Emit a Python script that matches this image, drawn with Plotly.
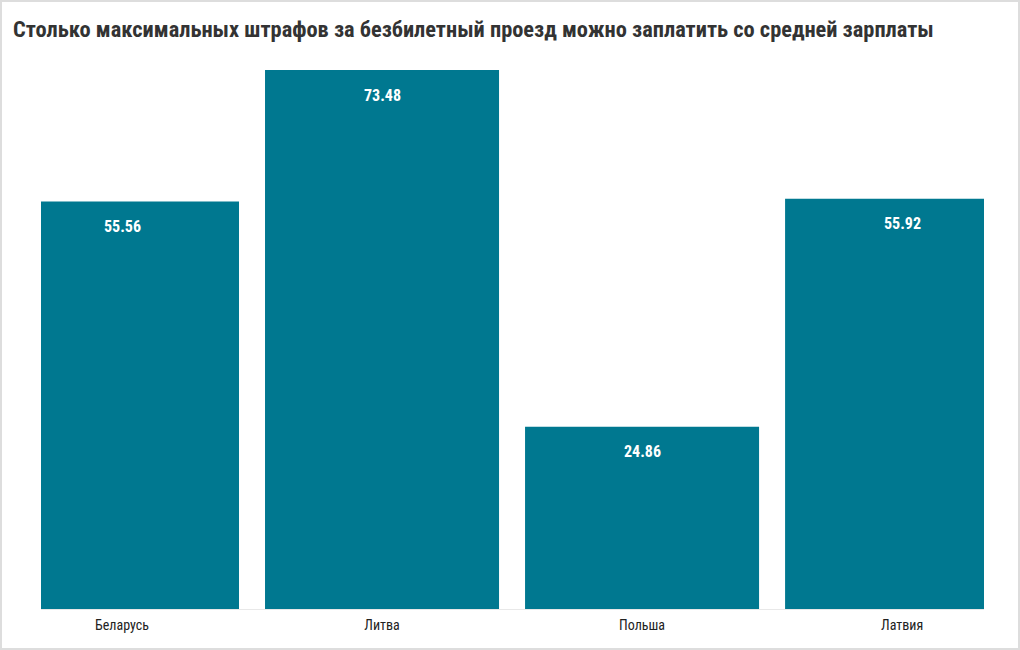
import plotly.graph_objects as go

countries = ["Беларусь", "Литва", "Польша", "Латвия"]
fines_per_salary = [55.56, 73.48, 24.86, 55.92]
title_text = "Столько максимальных штрафов за безбилетный проезд можно заплатить со средней зарплаты"

FONT = "Roboto Condensed, Liberation Sans Narrow, DejaVu Sans Condensed, Roboto, sans-serif"
BAR = "#007890"

fig = go.Figure(go.Bar(
    x=countries,
    y=fines_per_salary,
    marker=dict(color=BAR, line=dict(width=0)),
    hoverinfo="x+y",
))

for c, v in zip(countries, fines_per_salary):
    fig.add_annotation(
        x=c, y=v, xref="x", yref="y",
        text=f"{v:.2f}", showarrow=False,
        yanchor="middle", yshift=-25,
        font=dict(family=FONT, size=16, color="white", weight="bold"),
    )

fig.update_layout(
    width=1020, height=650,
    margin=dict(l=41, r=36, t=70, b=41),
    paper_bgcolor="white", plot_bgcolor="white",
    bargap=0.1,
    showlegend=False,
    font=dict(family=FONT, color="#222222"),
    title=dict(
        text=title_text,
        x=13/1020, xanchor="left", xref="container",
        y=1-29.5/650, yanchor="middle", yref="container",
        font=dict(family=FONT, size=22.4, color="#333333", weight="bold"),
    ),
    xaxis=dict(
        type="category",
        range=[-0.3115, 3.315],
        showgrid=False,
        showline=True, linecolor="#e8e8e8", linewidth=1,
        ticks="",
        ticklabelstandoff=3,
        tickfont=dict(family=FONT, size=14, color="#222222"),
        fixedrange=True,
    ),
    yaxis=dict(
        range=[0, 73.48],
        visible=False,
        showgrid=False,
        zeroline=False,
        fixedrange=True,
    ),
    shapes=[dict(
        type="rect", xref="paper", yref="paper",
        x0=-40/943, x1=1+35/943, y0=-40/539, y1=1+69/539,
        line=dict(color="#dddddd", width=2), fillcolor="rgba(0,0,0,0)",
        layer="below",
    )],
)

fig.write_html(
    "out.html",
    config={"displayModeBar": False},
    post_script="document.body.style.margin='0';document.body.style.overflow='hidden';",
)
